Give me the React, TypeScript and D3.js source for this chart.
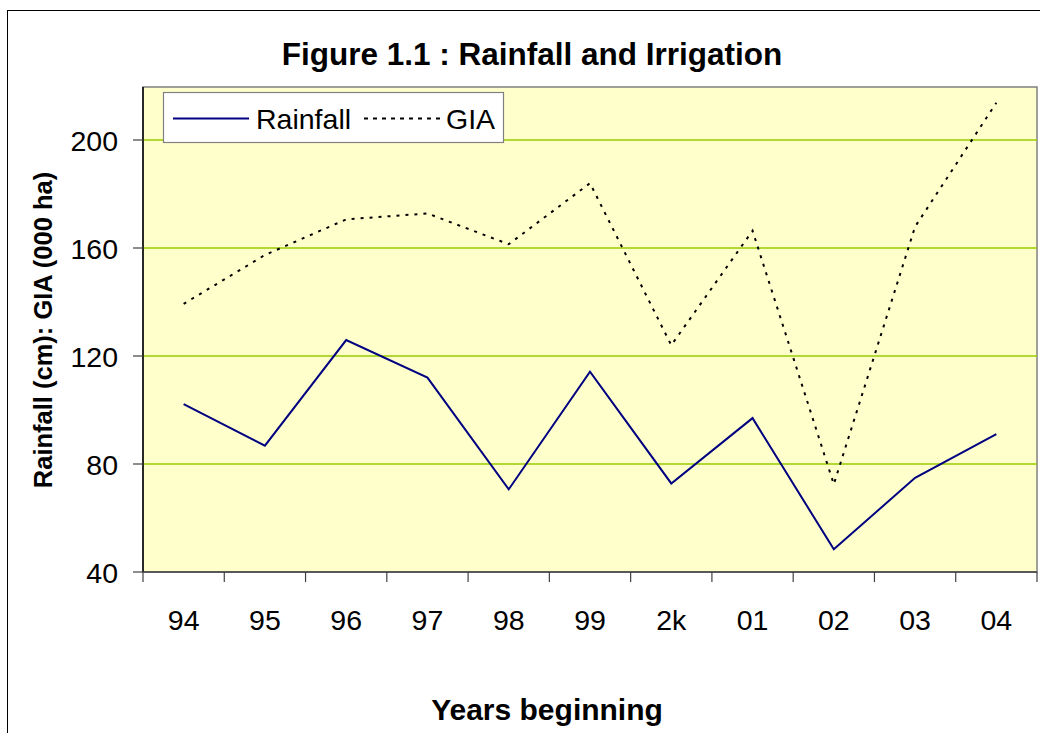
import React from "react";
import * as d3 from "d3";

const years = ["94", "95", "96", "97", "98", "99", "2k", "01", "02", "03", "04"];
const rainfall = [102.2, 86.8, 125.9, 112, 70.6, 114.2, 72.8, 97, 48.4, 74.9, 91.1];
const gia = [139.3, 157.4, 170.6, 172.8, 161.4, 184, 124, 166.4, 72.5, 167.9, 213.8];
const yTicks = [40, 80, 120, 160, 200];

const FONT = "'Liberation Sans', Arial, sans-serif";

export default function App() {
  const left = 143, right = 1037, top = 86, bottom = 572;
  const x = d3.scaleBand<string>().domain(years).range([left, right]).padding(0);
  const y = d3.scaleLinear().domain([40, 220]).range([bottom, top]);
  const cx = (d: string) => (x(d) as number) + x.bandwidth() / 2;

  const line = d3
    .line<number>()
    .x((_, i) => cx(years[i]))
    .y((v) => y(v));

  const boundaries = years.map((d) => x(d) as number).concat([right]);

  return (
    <svg
      width={1040}
      height={733}
      style={{ position: "absolute", left: 0, top: 0, background: "#fff" }}
      fontFamily={FONT}
    >
      {/* outer chart border */}
      <rect x={7.5} y={10.5} width={1045} height={740} fill="#fff" stroke="#000" strokeWidth={1} />

      {/* title */}
      <text x={532} y={65} textAnchor="middle" fontSize={31.5} fontWeight="bold" fill="#000">
        Figure 1.1 : Rainfall and Irrigation
      </text>

      {/* plot area */}
      <rect x={left} y={top + 1} width={right - left} height={bottom - top - 1} fill="#FFFFCC" stroke="#808080" strokeWidth={1.5} />

      {/* gridlines */}
      {yTicks.filter((t) => t > 40).map((t) => (
        <line key={"g" + t} x1={left} x2={right} y1={y(t)} y2={y(t)} stroke="#99CC00" strokeWidth={1.5} />
      ))}

      {/* axes */}
      <line x1={left} x2={left} y1={top + 1} y2={bottom} stroke="#000" strokeWidth={1.5} />
      <line x1={left} x2={right} y1={bottom} y2={bottom} stroke="#404040" strokeWidth={1.5} />

      {/* y ticks */}
      {yTicks.map((t) => (
        <g key={"y" + t}>
          <line x1={left - 10} x2={left} y1={y(t)} y2={y(t)} stroke="#404040" strokeWidth={1.2} />
          <text x={118} y={y(t) + 11} textAnchor="end" fontSize={28.5} fill="#000">
            {t}
          </text>
        </g>
      ))}

      {/* x ticks */}
      {boundaries.map((b, i) => (
        <line key={"xt" + i} x1={b} x2={b} y1={bottom} y2={bottom + 10} stroke="#404040" strokeWidth={1.2} />
      ))}
      {years.map((d) => (
        <text key={"xl" + d} x={cx(d)} y={630} textAnchor="middle" fontSize={28.5} fill="#000">
          {d}
        </text>
      ))}

      {/* axis titles */}
      <text x={547} y={720} textAnchor="middle" fontSize={30} fontWeight="bold" fill="#000">
        Years beginning
      </text>
      <text
        transform={`translate(52,330) rotate(-90)`}
        textAnchor="middle"
        fontSize={25.5}
        fontWeight="bold"
        fill="#000"
      >
        Rainfall (cm): GIA (000 ha)
      </text>

      {/* series */}
      <path d={line(gia) || ""} fill="none" stroke="#000" strokeWidth={2} strokeDasharray="3,6" />
      <path d={line(rainfall) || ""} fill="none" stroke="#000080" strokeWidth={2} strokeLinejoin="miter" />

      {/* legend */}
      <rect x={163.5} y={92.5} width={340} height={50} fill="#fff" stroke="#808080" strokeWidth={1.2} />
      <line x1={173} x2={249} y1={118.5} y2={118.5} stroke="#000080" strokeWidth={2} />
      <text x={256} y={128.5} fontSize={28.5} fill="#000">Rainfall</text>
      <line x1={364} x2={442} y1={118.5} y2={118.5} stroke="#000" strokeWidth={1.8} strokeDasharray="4,5" />
      <text x={446} y={128.5} fontSize={28.5} fill="#000">GIA</text>
    </svg>
  );
}
